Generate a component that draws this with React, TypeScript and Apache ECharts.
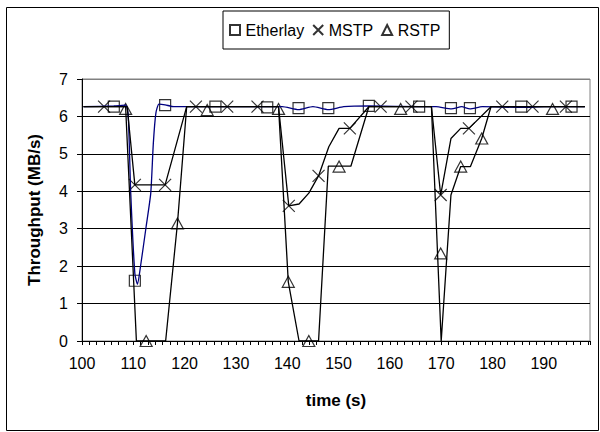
import { useEffect, useRef } from "react";
import * as echarts from "echarts";

// Lines (vertices)
const etherlayLine: number[][] = [
  [100.3, 6.26], [106.2, 6.28], [108.5, 6.3], [109.0, 6.05], [109.5, 3.95], [110.3, 1.8],
  [110.8, 1.52], [111.4, 1.99], [112.5, 3.06], [113.4, 3.95], [113.9, 5.28], [114.4, 6.09],
  [115.0, 6.33], [116.2, 6.31], [117.9, 6.26], [126, 6.26], [136, 6.26], [139, 6.26],
  [142.2, 6.18], [145, 6.26], [148, 6.18], [151, 6.26], [156, 6.28], [166, 6.26], [169, 6.26],
  [172, 6.2], [174, 6.26], [175.6, 6.2], [178, 6.26], [186, 6.24], [190, 6.26], [198, 6.26],
];
const mstpLine: number[][] = [
  [100.3, 6.26], [108.8, 6.26], [110.3, 4.17], [116.2, 4.17], [120.4, 6.26], [138.3, 6.26],
  [140.3, 3.61], [142.3, 3.66], [144.2, 3.95], [146.1, 4.41], [148.1, 5.19], [150.1, 5.68],
  [152.2, 5.68], [155.9, 6.26], [168.1, 6.26], [169.9, 3.9], [171.9, 5.41], [173.8, 5.68],
  [175.4, 5.68], [179.7, 6.26], [198, 6.26],
];
const rstpLine: number[][] = [
  [100.3, 6.26], [108.5, 6.26], [110.6, 0], [116.3, 0], [118.6, 3.14], [120.4, 6.26],
  [138.3, 6.26], [140.2, 1.58], [142.3, 0], [146.1, 0], [148, 4.67], [152.4, 4.67],
  [155.9, 6.26], [168.1, 6.26], [170, 0], [171.9, 3.9], [173.8, 4.66], [175.7, 4.66],
  [177.9, 5.41], [179.7, 6.26], [198, 6.26],
];

// Markers
const etherlayMarks: number[][] = [
  [106.2, 6.26], [110.3, 1.61], [116.2, 6.3], [126, 6.26], [136.1, 6.24], [142.2, 6.22],
  [148, 6.22], [155.9, 6.28], [165.7, 6.26], [171.9, 6.22], [175.6, 6.22], [185.6, 6.26], [195.4, 6.26],
];
const mstpMarks: number[][] = [
  [104.3, 6.26], [110.3, 4.17], [116.2, 4.17], [122.2, 6.26], [128.3, 6.26], [134.2, 6.26],
  [140.3, 3.61], [146.1, 4.41], [152.2, 5.68], [158.2, 6.26], [164.2, 6.26], [169.9, 3.9],
  [175.4, 5.68], [181.9, 6.26], [187.8, 6.26], [194.3, 6.26],
];
const rstpMarks: number[][] = [
  [108.5, 6.2], [112.5, 0], [118.6, 3.14], [124.4, 6.17], [138.3, 6.2], [140.2, 1.58],
  [144.2, 0], [150.1, 4.66], [162.1, 6.2], [169.9, 2.34], [173.8, 4.66], [177.9, 5.41], [191.7, 6.2],
];

const seriesNames = ["Etherlay", "MSTP", "RSTP"];
const xMin = 100;
const xMax = 199;
const yMin = 0;
const yMax = 7;

const SQUARE = "path://M0,0L10,0L10,10L0,10Z";
const CROSS = "path://M0,0L10,10M10,0L0,10";
const TRI = "path://M5,0L10,10L0,10Z";

export default function App() {
  const ref = useRef<HTMLDivElement>(null);
  useEffect(() => {
    if (!ref.current) return;
    const chart = echarts.init(ref.current, null, { renderer: "svg" });
    const font = "Arial, 'Liberation Sans', sans-serif";
    const markerStyle = { color: "transparent", borderColor: "#000", borderWidth: 1.2 };
    chart.setOption({
      animation: false,
      backgroundColor: "#fff",
      textStyle: { fontFamily: font },
      grid: {
        left: 82, right: 10, top: 79, bottom: 91,
        show: true, borderColor: "#808080", borderWidth: 1, backgroundColor: "transparent",
      },
      legend: {
        data: seriesNames,
        left: 223, top: 11,
        orient: "horizontal",
        borderColor: "#000", borderWidth: 1,
        padding: [11, 9, 11, 6],
        itemWidth: 11, itemHeight: 10, itemGap: 8,
        textStyle: { fontSize: 16, color: "#000", fontFamily: font },
      },
      xAxis: {
        type: "value",
        min: xMin, max: xMax, interval: 10,
        name: "time (s)", nameLocation: "middle", nameGap: 51,
        nameTextStyle: { fontSize: 17, fontWeight: "bold", color: "#000", fontFamily: font },
        axisLine: { lineStyle: { color: "#000", width: 1 } },
        axisTick: { show: true, length: 4, lineStyle: { color: "#000" } },
        minorTick: { show: true, splitNumber: 7, length: 4, lineStyle: { color: "#000" } },
        axisLabel: { fontSize: 16, color: "#000", margin: 14, showMaxLabel: false, fontFamily: font },
        splitLine: { show: false },
      },
      yAxis: {
        type: "value",
        min: yMin, max: yMax, interval: 1,
        name: "Throughput (MB/s)", nameLocation: "middle", nameGap: 39, nameRotate: 90,
        nameTextStyle: { fontSize: 17, fontWeight: "bold", color: "#000", fontFamily: font },
        axisLine: { show: true, lineStyle: { color: "#000", width: 1 } },
        axisTick: { show: true, length: 5, lineStyle: { color: "#000" } },
        axisLabel: { fontSize: 16, color: "#000", margin: 14, fontFamily: font },
        splitLine: {
          show: true,
          lineStyle: { color: ["#000", "#000", "#000", "#000", "#000", "#000", "#000", "#808080"], width: 1 },
        },
      },
      series: [
        {
          type: "line", data: etherlayLine, smooth: 0.2, symbol: "none",
          lineStyle: { color: "#000080", width: 1.3 }, silent: true,
        },
        {
          type: "line", data: mstpLine, symbol: "none",
          lineStyle: { color: "#000", width: 1.3 }, silent: true,
        },
        {
          type: "line", data: rstpLine, symbol: "none",
          lineStyle: { color: "#000", width: 1.3 }, silent: true,
        },
        {
          name: "Etherlay", type: "scatter", data: etherlayMarks, symbol: SQUARE, symbolSize: 11,
          itemStyle: markerStyle,
        },
        {
          name: "MSTP", type: "scatter", data: mstpMarks, symbol: CROSS, symbolSize: 12,
          itemStyle: markerStyle,
        },
        {
          name: "RSTP", type: "scatter", data: rstpMarks, symbol: TRI, symbolSize: [12, 11],
          itemStyle: markerStyle,
        },
      ],
      graphic: [
        {
          type: "rect", left: 4, top: 5, silent: true, z: -1,
          shape: { width: 592, height: 423 },
          style: { fill: "none", stroke: "#000", lineWidth: 1 },
        },
      ],
    });
    return () => chart.dispose();
  }, []);
  return <div ref={ref} style={{ width: 600, height: 432, position: "absolute", left: 0, top: 0 }} />;
}
